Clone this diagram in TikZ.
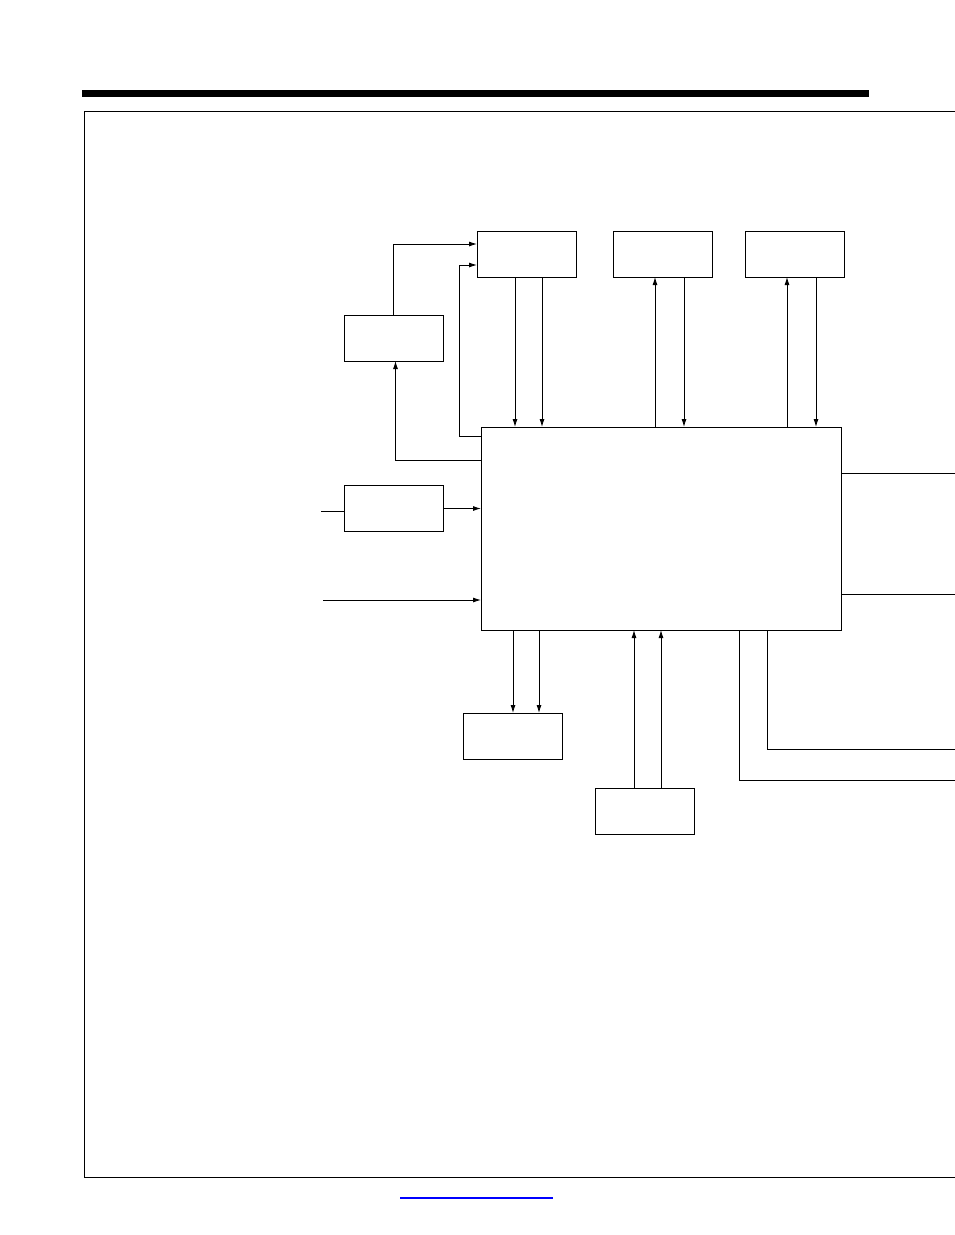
\documentclass[tikz,border=0pt]{standalone}
\usetikzlibrary{arrows.meta}
\begin{document}
\begin{tikzpicture}[x=1pt, y=-1pt, line width=0.9pt, line join=miter,
    every node/.style={draw, minimum width=99pt, minimum height=46pt, inner sep=0pt, outer sep=0pt},
    arr/.style={-{Latex[length=8pt,width=5pt]}}]
        \useasboundingbox (0,0) rectangle (954,1235);
        \fill (82,90) rectangle (869,96.5);
        \draw (960,111) -| (84,1177) -- (960,1177);
        \node (A) at (526.5, 254) {};
        \node (B) at (662.5, 254) {};
        \node (C) at (794.5, 254) {};
        \node (D) at (393.5, 338) {};
        \node (E) at (393.5, 508.5) {};
        \node[minimum width=360pt, minimum height=203pt] (main) at (661, 528.5) {};
        \node (F) at (512.5, 736) {};
        \node (G) at (644.5, 811) {};
        \coordinate (inE) at (321, 511);
        \coordinate (inM) at (323, 600);
        \coordinate (o1) at (960, 473);
        \coordinate (o2) at (960, 594);
        \coordinate (o3) at (960, 749);
        \coordinate (o4) at (960, 780);
        \draw[arr] (D.north) |- ([yshift=10pt]A.west);
        \draw[arr] ([yshift=-9pt]main.north west) -- ++(-22,0) |- ([yshift=-11pt]A.west);
        \draw[arr] ([yshift=68.5pt]main.west) -| (D.south -| 395.5,0);
        \foreach \x in {515,542} \draw[arr] (A.south -| \x,0) -- (main.north -| \x,0);
        \foreach \x in {684} \draw[arr] (B.south -| \x,0) -- (main.north -| \x,0);
        \foreach \x in {655} \draw[arr] (main.north -| \x,0) -- (B.south -| \x,0);
        \foreach \x in {816} \draw[arr] (C.south -| \x,0) -- (main.north -| \x,0);
        \foreach \x in {787} \draw[arr] (main.north -| \x,0) -- (C.south -| \x,0);
        \draw (inE) -- (inE -| E.west);
        \draw[arr] (E.east) -- (E.east -| main.west);
        \draw[arr] (inM) -- (inM -| main.west);
        \draw (main.east |- o1) -- (o1);
        \draw (main.east |- o2) -- (o2);
        \draw (main.south -| 767,0) |- (o3);
        \draw (main.south -| 739,0) |- (o4);
        \foreach \x in {513,539} \draw[arr] (main.south -| \x,0) -- (F.north -| \x,0);
        \foreach \x in {634,661} \draw[arr] (G.north -| \x,0) -- (main.south -| \x,0);
        \draw[blue, line width=1.2pt] (400,1198) -- (553,1198);
    \end{tikzpicture}
\end{document}
